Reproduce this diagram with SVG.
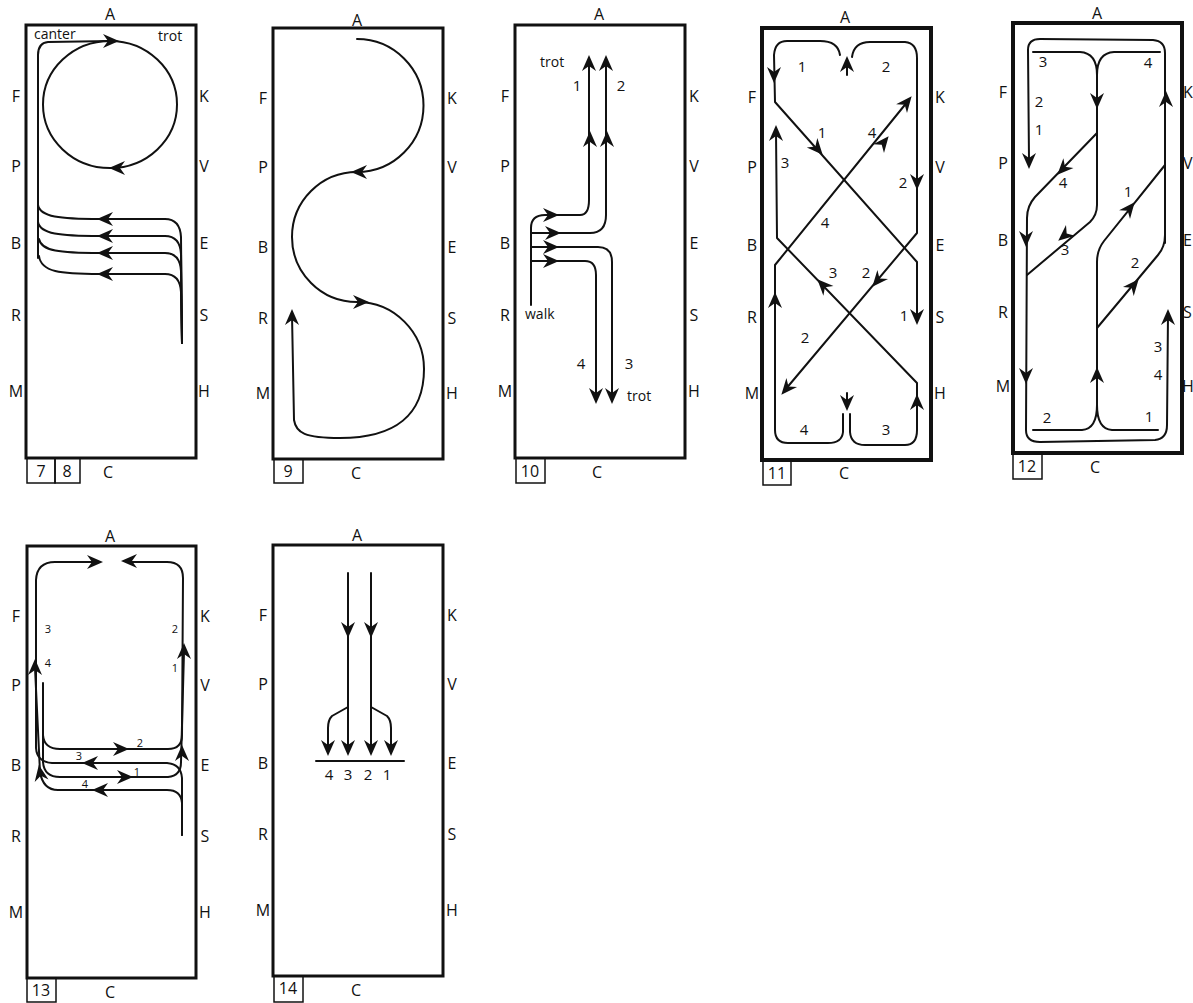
<svg xmlns="http://www.w3.org/2000/svg" width="1193" height="1003" viewBox="0 0 1193 1003">
<style>
text{font-family:"Open Sans","Liberation Sans",sans-serif;fill:#111}
.lb{font-size:16px;text-anchor:middle}
.n{font-size:15px;text-anchor:middle}
.s{font-size:11px;text-anchor:middle}
.t{font-size:14px}
.arena{fill:#fff;stroke:#111;stroke-width:3}
.arena4{fill:#fff;stroke:#111;stroke-width:4}
.box{fill:none;stroke:#111;stroke-width:1.5}
.p{fill:none;stroke:#111;stroke-width:2;stroke-linejoin:round;stroke-linecap:round}
</style>
<defs>
<path id="ah" d="M1,0 L-15,-7 L-10,0 L-15,7 Z" fill="#111"/>
</defs>
<rect width="1193" height="1003" fill="#fff"/>

<!-- Panel 7/8 -->
<g id="arena-7-8">
<rect class="arena" x="26" y="25" width="170" height="433"/>
<text class="lb" x="110" y="20">A</text>
<text class="lb" x="16" y="102">F</text><text class="lb" x="16" y="172">P</text><text class="lb" x="16" y="249">B</text><text class="lb" x="16" y="321">R</text><text class="lb" x="16" y="397">M</text>
<text class="lb" x="204" y="102">K</text><text class="lb" x="204" y="172">V</text><text class="lb" x="204" y="249">E</text><text class="lb" x="204" y="321">S</text><text class="lb" x="204" y="397">H</text>
<text class="lb" x="108" y="478">C</text>
<rect class="box" x="27" y="458" width="28" height="25"/><text class="lb" x="41" y="477">7</text>
<rect class="box" x="55" y="458" width="25" height="25"/><text class="lb" x="67" y="477">8</text>
<text class="t" x="34" y="39">canter</text><text class="t" x="158" y="41">trot</text>
<g id="conn-7-8">
<ellipse class="p" cx="110" cy="104.5" rx="67" ry="63.5"/>
<path class="p" d="M112 41 L48 42 Q38 43 38 55 L38 258"/>
<path class="p" d="M182 343 L181 237 Q180 219 165 219 L100 219 C60 219 40 217 38 205"/>
<path class="p" d="M182 343 L181 254 Q180 236 165 236 L100 236 C60 236 40 234 38 222"/>
<path class="p" d="M182 343 L181 271 Q180 253 165 253 L100 253 C60 253 41 251 39 239"/>
<path class="p" d="M182 343 L181 292 Q180 274 165 274 L100 274 C60 274 41 272 39 256"/>
<use href="#ah" transform="translate(118,41)"/>
<use href="#ah" transform="translate(110,168) rotate(180)"/>
<use href="#ah" transform="translate(98,219) rotate(180)"/>
<use href="#ah" transform="translate(98,236) rotate(180)"/>
<use href="#ah" transform="translate(98,253) rotate(180)"/>
<use href="#ah" transform="translate(98,274) rotate(180)"/>
</g>
</g>

<!-- Panel 9 -->
<g id="arena-9">
<rect class="arena" x="273" y="28" width="170" height="431"/>
<text class="lb" x="357" y="26">A</text>
<text class="lb" x="263" y="104">F</text><text class="lb" x="263" y="173">P</text><text class="lb" x="263" y="253">B</text><text class="lb" x="263" y="324">R</text><text class="lb" x="263" y="399">M</text>
<text class="lb" x="452" y="104">K</text><text class="lb" x="452" y="173">V</text><text class="lb" x="452" y="253">E</text><text class="lb" x="452" y="324">S</text><text class="lb" x="452" y="399">H</text>
<text class="lb" x="356" y="479">C</text>
<rect class="box" x="274" y="459" width="29" height="24"/><text class="lb" x="288" y="477">9</text>
<g id="conn-9">
<path class="p" d="M357 39 A66.5 66.5 0 0 1 357 172 A65 65 0 0 0 357 302 A67 67 0 0 1 424 369 C424 415 395 438 340 438 C305 438 296 433 294 420 L292 315"/>
<use href="#ah" transform="translate(352,172) rotate(180)"/>
<use href="#ah" transform="translate(368,302)"/>
<use href="#ah" transform="translate(292,310) rotate(-90)"/>
</g>
</g>

<!-- Panel 10 -->
<g id="arena-10">
<rect class="arena" x="515" y="25" width="170" height="433"/>
<text class="lb" x="599" y="20">A</text>
<text class="lb" x="505" y="102">F</text><text class="lb" x="505" y="172">P</text><text class="lb" x="505" y="249">B</text><text class="lb" x="505" y="321">R</text><text class="lb" x="505" y="397">M</text>
<text class="lb" x="694" y="102">K</text><text class="lb" x="694" y="172">V</text><text class="lb" x="694" y="249">E</text><text class="lb" x="694" y="321">S</text><text class="lb" x="694" y="397">H</text>
<text class="lb" x="597" y="478">C</text>
<rect class="box" x="516" y="458" width="29" height="25"/><text class="lb" x="530" y="477">10</text>
<text class="t" x="540" y="67">trot</text>
<text class="n" x="577" y="91">1</text><text class="n" x="621" y="91">2</text>
<text class="t" x="525" y="319">walk</text>
<text class="n" x="581" y="369">4</text><text class="n" x="629" y="369">3</text>
<text class="t" x="627" y="401">trot</text>
<g id="conn-10">
<path class="p" d="M531 305 L531 228 Q531 215 545 215 L580 215 Q589 215 589 200 L589 60"/>
<path class="p" d="M531 233 L590 233 Q606 233 606 215 L606 60"/>
<path class="p" d="M531 247 L598 247 Q612 247 612 262 L612 398"/>
<path class="p" d="M531 261 L585 261 Q596 261 596 275 L596 398"/>
<use href="#ah" transform="translate(558,215)"/>
<use href="#ah" transform="translate(560,233)"/>
<use href="#ah" transform="translate(558,247)"/>
<use href="#ah" transform="translate(558,261)"/>
<use href="#ah" transform="translate(589,56) rotate(-90)"/>
<use href="#ah" transform="translate(606,56) rotate(-90)"/>
<use href="#ah" transform="translate(590,132) rotate(-90)"/>
<use href="#ah" transform="translate(607,132) rotate(-90)"/>
<use href="#ah" transform="translate(596,403) rotate(90)"/>
<use href="#ah" transform="translate(612,403) rotate(90)"/>
</g>
</g>

<!-- Panel 11 -->
<g id="arena-11">
<rect class="arena4" x="762" y="28" width="169" height="432"/>
<text class="lb" x="845" y="23">A</text>
<text class="lb" x="752" y="103">F</text><text class="lb" x="752" y="173">P</text><text class="lb" x="752" y="251">B</text><text class="lb" x="752" y="323">R</text><text class="lb" x="752" y="399">M</text>
<text class="lb" x="940" y="103">K</text><text class="lb" x="940" y="173">V</text><text class="lb" x="940" y="251">E</text><text class="lb" x="940" y="323">S</text><text class="lb" x="940" y="399">H</text>
<text class="lb" x="844" y="479">C</text>
<rect class="box" x="763" y="460" width="28" height="25"/><text class="lb" x="777" y="479">11</text>
<text class="n" x="802" y="72">1</text><text class="n" x="886" y="72">2</text>
<text class="n" x="822" y="138">1</text><text class="n" x="872" y="138">4</text>
<text class="n" x="785" y="168">3</text><text class="n" x="903" y="188">2</text>
<text class="n" x="825" y="228">4</text>
<text class="n" x="833" y="278">3</text><text class="n" x="866" y="278">2</text>
<text class="n" x="904" y="321">1</text><text class="n" x="805" y="343">2</text>
<text class="n" x="804" y="435">4</text><text class="n" x="886" y="435">3</text>
<g id="conn-11">
<path class="p" d="M840 55 Q838 41 820 41 L787 41 Q775 41 774 55 L775 102 L917 262 L917 318"/>
<path class="p" d="M852 57 Q854 42 870 42 L905 42 Q917 43 917 58 L917 233 L785 390"/>
<path class="p" d="M850 414 L850 432 Q851 445 865 445 L905 445 Q917 445 917 430 L917 383 L777 238 L776 132"/>
<path class="p" d="M843 414 L843 432 Q842 443 828 443 L788 443 Q775 443 775 430 L775 265 L908 101"/>
<path class="p" d="M847 75 L847 62"/>
<path class="p" d="M847 393 L847 405"/>
<use href="#ah" transform="translate(847,57) rotate(-90)"/>
<use href="#ah" transform="translate(847,410) rotate(90)"/>
<use href="#ah" transform="translate(774,82) rotate(90)"/>
<use href="#ah" transform="translate(822,154) rotate(48.6)"/>
<use href="#ah" transform="translate(917,324) rotate(90)"/>
<use href="#ah" transform="translate(917,189) rotate(90)"/>
<use href="#ah" transform="translate(873,286) rotate(130.4)"/>
<use href="#ah" transform="translate(782,394) rotate(130.4)"/>
<use href="#ah" transform="translate(917,395) rotate(-90)"/>
<use href="#ah" transform="translate(818,280) rotate(226)"/>
<use href="#ah" transform="translate(776,126) rotate(-90)"/>
<use href="#ah" transform="translate(775,293) rotate(-90)"/>
<use href="#ah" transform="translate(888,137) rotate(-51)"/>
<use href="#ah" transform="translate(911,97) rotate(-51)"/>
</g>
</g>

<!-- Panel 12 -->
<g id="arena-12">
<rect class="arena4" x="1013" y="23" width="169" height="430"/>
<text class="lb" x="1097" y="19">A</text>
<text class="lb" x="1003" y="98">F</text><text class="lb" x="1003" y="169">P</text><text class="lb" x="1003" y="246">B</text><text class="lb" x="1003" y="318">R</text><text class="lb" x="1003" y="392">M</text>
<text class="lb" x="1183" y="98" style="text-anchor:start">K</text><text class="lb" x="1183" y="169" style="text-anchor:start">V</text><text class="lb" x="1183" y="246" style="text-anchor:start">E</text><text class="lb" x="1183" y="318" style="text-anchor:start">S</text><text class="lb" x="1182" y="392" style="text-anchor:start">H</text>
<text class="lb" x="1095" y="473">C</text>
<rect class="box" x="1013" y="453" width="29" height="26"/><text class="lb" x="1027" y="472">12</text>
<text class="n" x="1043" y="67">3</text><text class="n" x="1148" y="68">4</text>
<text class="n" x="1039" y="107">2</text><text class="n" x="1039" y="135">1</text>
<text class="n" x="1063" y="188">4</text><text class="n" x="1128" y="197">1</text>
<text class="n" x="1065" y="255">3</text><text class="n" x="1135" y="268">2</text>
<text class="n" x="1158" y="352">3</text><text class="n" x="1158" y="380">4</text>
<text class="n" x="1047" y="423">2</text><text class="n" x="1149" y="422">1</text>
<g id="conn-12">
<path class="p" d="M1033 52 L1080 52 Q1097 53 1097 75"/>
<path class="p" d="M1160 52 L1114 52 Q1097 53 1097 75"/>
<path class="p" d="M1097 75 L1097 205 Q1097 215 1090 222 L1027 275"/>
<path class="p" d="M1097 133 L1035 197 Q1027 206 1027 218 L1026 430 Q1026 442 1040 442 L1155 440 Q1167 439 1167 425 L1168 314"/>
<path class="p" d="M1029 160 L1028 50 Q1028 39 1040 39 L1153 40 Q1165 41 1165 53 L1165 243"/>
<path class="p" d="M1097 328 L1097 262 Q1097 250 1104 241 L1165 165"/>
<path class="p" d="M1097 328 L1158 255 Q1165 247 1165 235"/>
<path class="p" d="M1033 430 L1082 430 Q1097 429 1097 405"/>
<path class="p" d="M1158 430 L1112 430 Q1097 429 1097 405"/>
<path class="p" d="M1097 405 L1097 328"/>
<use href="#ah" transform="translate(1097,108) rotate(90)"/>
<use href="#ah" transform="translate(1058,174) rotate(134)"/>
<use href="#ah" transform="translate(1026,246) rotate(90)"/>
<use href="#ah" transform="translate(1059,240) rotate(140)"/>
<use href="#ah" transform="translate(1026,383) rotate(90)"/>
<use href="#ah" transform="translate(1029,168) rotate(90)"/>
<use href="#ah" transform="translate(1166,92) rotate(-90)"/>
<use href="#ah" transform="translate(1134,203) rotate(-51)"/>
<use href="#ah" transform="translate(1138,280) rotate(-50)"/>
<use href="#ah" transform="translate(1097,368) rotate(-90)"/>
<use href="#ah" transform="translate(1168,310) rotate(-90)"/>
</g>
</g>

<!-- Panel 13 -->
<g id="arena-13">
<rect class="arena" x="27" y="546" width="169" height="432"/>
<text class="lb" x="110" y="542">A</text>
<text class="lb" x="16" y="622">F</text><text class="lb" x="16" y="691">P</text><text class="lb" x="16" y="771">B</text><text class="lb" x="16" y="842">R</text><text class="lb" x="16" y="918">M</text>
<text class="lb" x="205" y="622">K</text><text class="lb" x="205" y="691">V</text><text class="lb" x="205" y="771">E</text><text class="lb" x="205" y="842">S</text><text class="lb" x="205" y="918">H</text>
<text class="lb" x="110" y="998">C</text>
<rect class="box" x="27" y="978" width="29" height="24"/><text class="lb" x="41" y="996">13</text>
<text class="s" x="48" y="633">3</text><text class="s" x="48" y="667">4</text>
<text class="s" x="175" y="633">2</text><text class="s" x="175" y="672">1</text>
<text class="s" x="140" y="747">2</text><text class="s" x="79" y="760">3</text>
<text class="s" x="137" y="776">1</text><text class="s" x="85" y="788">4</text>
<g id="conn-13">
<path class="p" d="M182 835 L182 778 Q181 764 167 763 L52 763 Q37 762 36 748 L36 580 Q37 562 55 562 L96 562"/>
<path class="p" d="M182 835 L182 803 Q181 790 167 790 L58 790 Q43 790 40 772 L35 668"/>
<path class="p" d="M43 683 L43 735 Q44 749 60 749 L168 749 Q182 749 182 735 L183 578 Q183 562 167 562 L128 562"/>
<path class="p" d="M43 735 L43 762 Q44 777 60 777 L168 777 Q181 776 181 762 L184 652"/>
<use href="#ah" transform="translate(102,562)"/>
<use href="#ah" transform="translate(122,561) rotate(180)"/>
<use href="#ah" transform="translate(128,749)"/>
<use href="#ah" transform="translate(83,763) rotate(180)"/>
<use href="#ah" transform="translate(132,777)"/>
<use href="#ah" transform="translate(93,790) rotate(180)"/>
<use href="#ah" transform="translate(39,766) rotate(-100)"/>
<use href="#ah" transform="translate(35,660) rotate(-90)"/>
<use href="#ah" transform="translate(182,746) rotate(-90)"/>
<use href="#ah" transform="translate(184,644) rotate(-90)"/>
</g>
</g>

<!-- Panel 14 -->
<g id="arena-14">
<rect class="arena" x="273" y="545" width="170" height="431"/>
<text class="lb" x="357" y="541">A</text>
<text class="lb" x="263" y="621">F</text><text class="lb" x="263" y="690">P</text><text class="lb" x="263" y="769">B</text><text class="lb" x="263" y="840">R</text><text class="lb" x="263" y="916">M</text>
<text class="lb" x="452" y="621">K</text><text class="lb" x="452" y="690">V</text><text class="lb" x="452" y="769">E</text><text class="lb" x="452" y="840">S</text><text class="lb" x="452" y="916">H</text>
<text class="lb" x="356" y="996">C</text>
<rect class="box" x="274" y="976" width="29" height="26"/><text class="lb" x="288" y="994">14</text>
<text class="n" x="329" y="780">4</text><text class="n" x="348" y="780">3</text><text class="n" x="368" y="780">2</text><text class="n" x="387" y="780">1</text>
<g id="conn-14">
<path class="p" d="M348 573 L348 750"/>
<path class="p" d="M371 573 L371 750"/>
<path class="p" d="M348 707 L332 716 Q328 720 328 728 L328 750"/>
<path class="p" d="M371 707 L387 716 Q391 720 391 728 L391 750"/>
<path class="p" d="M316 761 L404 761"/>
<use href="#ah" transform="translate(348,637) rotate(90)"/>
<use href="#ah" transform="translate(371,637) rotate(90)"/>
<use href="#ah" transform="translate(328,755) rotate(90)"/>
<use href="#ah" transform="translate(348,755) rotate(90)"/>
<use href="#ah" transform="translate(371,755) rotate(90)"/>
<use href="#ah" transform="translate(391,755) rotate(90)"/>
</g>
</g>
</svg>
